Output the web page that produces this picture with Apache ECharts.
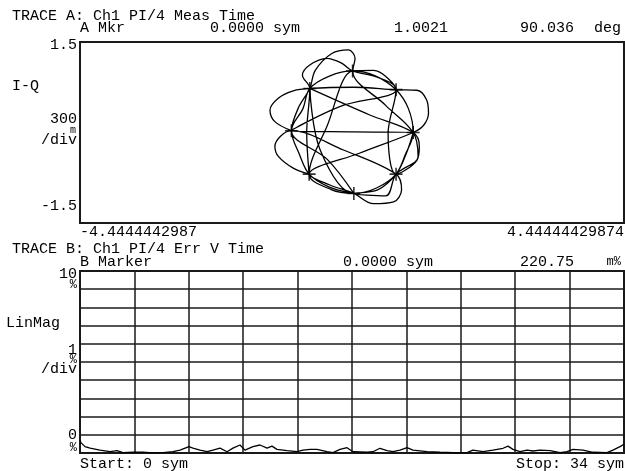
<!DOCTYPE html>
<html>
<head>
<meta charset="utf-8">
<script src="https://cdn.jsdelivr.net/npm/echarts@6/dist/echarts.min.js"></script>
<style>
html,body{margin:0;padding:0;background:#fff;}
#c{width:625px;height:471px;}
</style>
</head>
<body>
<div id="c"></div>
<script>
// ---- Trace A: I-Q trajectory (I, Q) ----
const iqTrajectory = [
  [-0.99, 0.03], [-1.26, 0.18], [-1.34, 0.37], [-1.20, 0.57], [-0.96, 0.69], [-0.69, 0.73],
  [0.02, 0.75], [0.72, 0.71], [1.06, 0.70], [1.22, 0.54], [1.25, 0.32], [1.17, 0.12], [1.00, 0.00],
  [0.13, -0.34], [-0.70, -0.69], [-0.36, -0.87], [0.03, -1.01], [0.35, -1.18], [0.68, -1.15],
  [0.81, -0.95], [0.72, -0.69], [-0.14, -0.29], [-0.99, 0.03], [-1.26, -0.23], [-1.20, -0.40],
  [-0.96, -0.59], [-0.70, -0.69], [-0.74, -0.01], [-0.69, 0.73], [-0.81, 0.95], [-0.69, 1.12],
  [-0.41, 1.23], [-0.17, 1.15], [0.01, 1.02], [0.40, 0.92], [0.72, 0.71], [0.59, -0.01],
  [0.72, -0.69], [1.06, -0.46], [1.10, -0.23], [1.00, 0.00], [0.29, 0.29], [-0.69, 0.73],
  [-0.52, -0.29], [0.03, -1.01], [0.40, -0.92], [0.72, -0.69], [0.89, -0.34], [1.00, 0.00],
  [0.02, 0.01], [-0.99, 0.03], [-0.20, 0.43], [0.72, 0.71], [0.35, 1.03], [0.01, 1.02],
  [-0.41, 0.10], [-0.70, -0.69], [-0.33, -0.95], [0.03, -1.01], [-0.40, -0.45], [-0.99, 0.03],
  [-0.88, 0.40], [-0.69, 0.73], [-0.60, 1.03], [-0.33, 1.31], [-0.06, 1.37], [0.05, 1.23],
  [0.01, 1.02], [0.55, 0.45], [1.00, 0.00], [1.08, -0.40], [0.72, -0.69], [0.55, -1.05], [0.03, -1.01],
  [0.42, -0.95], [0.72, -0.69], [0.87, -0.37], [1.00, 0.00], [0.92, 0.40], [0.72, 0.71],
  [0.38, 0.94], [0.01, 1.02], [-0.36, 0.94], [-0.69, 0.73], [-0.80, 0.40], [-0.99, 0.03],
  [-0.86, -0.36], [-0.70, -0.69], [-0.38, -0.90], [0.03, -1.01]
];
// symbol decision points
const iqSymbols = [
  [0.01, 1.02], [-0.69, 0.73], [0.72, 0.71], [-0.99, 0.03],
  [1.00, 0.00], [-0.70, -0.69], [0.72, -0.69], [0.03, -1.01]
];
const iqXMin = -4.4444442987, iqXMax = 4.44444429874;
const iqYMin = -1.5, iqYMax = 1.5;

// ---- Trace B: error vector magnitude vs symbol ----
const evmSym = [0, 0.06, 0.31, 0.63, 1.25, 1.88, 2.31, 2.69, 3.31, 3.94, 4.56, 5.19, 5.81, 6.25, 6.81, 7.06,
  7.5, 7.94, 8.31, 8.75, 9.19, 9.56, 10.0, 10.31, 10.81, 11.25, 11.69, 12.0, 12.31, 12.94, 13.56,
  13.94, 14.38, 14.81, 15.44, 15.81, 16.25, 16.69, 17.06, 17.94, 18.31, 18.75, 19.19, 19.56, 20.0,
  20.44, 20.81, 21.69, 22.5, 23.75, 24.19, 24.56, 25.19, 25.81, 26.44, 26.75, 27.06, 27.5, 27.94,
  28.31, 28.75, 29.38, 30.0, 30.44, 30.81, 31.44, 32.06, 32.94, 33.31, 33.75, 34.0];
const evmPct = [0.70, 0.57, 0.35, 0.27, 0.16, 0.07, 0.13, 0.02, 0.04, 0.04, 0.01, 0.02, 0.07, 0.16, 0.35, 0.27,
  0.16, 0.07, 0.16, 0.27, 0.07, 0.27, 0.44, 0.16, 0.35, 0.44, 0.27, 0.38, 0.20, 0.13, 0.07,
  0.16, 0.20, 0.20, 0.07, 0.02, 0.20, 0.29, 0.07, 0.04, 0.07, 0.26, 0.13, 0.07, 0.16,
  0.29, 0.16, 0.07, 0.04, 0.01, 0.02, 0.16, 0.07, 0.16, 0.26, 0.38, 0.20, 0.07, 0.16,
  0.11, 0.16, 0.13, 0.02, 0.07, 0.20, 0.16, 0.04, 0.02, 0.16, 0.35, 0.48];
const evmXMin = 0, evmXMax = 34, evmXInterval = 3.4;
const evmYMin = 0, evmYMax = 10, evmYInterval = 1;

const FONT = '"Liberation Mono", "DejaVu Sans Mono", monospace';
function txt(text, x, y, align, size) {
  return {
    type: 'text', silent: true,
    style: {
      text: text, x: x, y: y, fill: '#000',
      font: (size || 15) + 'px ' + FONT,
      align: align || 'left', verticalAlign: 'middle',
      textAlign: align || 'left', textVerticalAlign: 'middle'
    }
  };
}

const labels = [
  txt('TRACE A: Ch1 PI/4 Meas Time', 12, 16),
  txt('A Mkr', 80, 28),
  txt('0.0000 sym', 300, 28, 'right'),
  txt('1.0021', 448, 28, 'right'),
  txt('90.036', 574, 28, 'right'),
  txt('deg', 621, 28, 'right'),
  txt('1.5', 77, 45, 'right'),
  txt('I-Q', 12, 86),
  txt('300', 77, 119, 'right'),
  txt('m', 76, 130, 'right', 10),
  txt('/div', 77, 140, 'right'),
  txt('-1.5', 77, 206, 'right'),
  txt('-4.4444442987', 80, 232),
  txt('4.44444429874', 624, 232, 'right'),
  txt('TRACE B: Ch1 PI/4 Err V Time', 12, 249),
  txt('B Marker', 80, 262),
  txt('0.0000 sym', 433, 262, 'right'),
  txt('220.75', 574, 262, 'right'),
  txt('m%', 621, 262, 'right', 12),
  txt('10', 77, 274, 'right'),
  txt('%', 77, 285, 'right', 12),
  txt('LinMag', 6, 323),
  txt('1', 77, 350, 'right'),
  txt('%', 77, 360, 'right', 12),
  txt('/div', 77, 369, 'right'),
  txt('0', 77, 435, 'right'),
  txt('%', 77, 448, 'right', 12),
  txt('Start: 0 sym', 80, 464),
  txt('Stop: 34 sym', 624, 464, 'right')
];

const chart = echarts.init(document.getElementById('c'), null, { renderer: 'canvas' });
const lineColor = '#1a1a1a';
chart.setOption({
  animation: false,
  backgroundColor: '#fff',
  grid: [
    { left: 80, top: 42, width: 544, height: 181, show: true, borderColor: lineColor, borderWidth: 2, backgroundColor: 'transparent' },
    { left: 80, top: 271, width: 544, height: 182, show: true, borderColor: lineColor, borderWidth: 2, backgroundColor: 'transparent' }
  ],
  xAxis: [
    { gridIndex: 0, type: 'value', min: iqXMin, max: iqXMax, axisLine: { show: false }, axisTick: { show: false }, axisLabel: { show: false }, splitLine: { show: false } },
    { gridIndex: 1, type: 'value', min: evmXMin, max: evmXMax, interval: evmXInterval, axisLine: { show: false }, axisTick: { show: false }, axisLabel: { show: false },
      splitLine: { show: true, lineStyle: { color: lineColor, width: 1.5 } } }
  ],
  yAxis: [
    { gridIndex: 0, type: 'value', min: iqYMin, max: iqYMax, axisLine: { show: false }, axisTick: { show: false }, axisLabel: { show: false }, splitLine: { show: false } },
    { gridIndex: 1, type: 'value', min: evmYMin, max: evmYMax, interval: evmYInterval, axisLine: { show: false }, axisTick: { show: false }, axisLabel: { show: false },
      splitLine: { show: true, lineStyle: { color: lineColor, width: 1.5 } } }
  ],
  series: [
    {
      type: 'line', xAxisIndex: 0, yAxisIndex: 0, data: iqTrajectory, smooth: 0.35,
      showSymbol: false, symbol: 'none', lineStyle: { color: '#000', width: 1.3 }, silent: true
    },
    {
      type: 'scatter', xAxisIndex: 0, yAxisIndex: 0, data: iqSymbols,
      symbol: 'path://M0,6L12,6M6,0L6,12', symbolSize: 13,
      itemStyle: { color: 'transparent', borderColor: '#000', borderWidth: 1.6 }, silent: true
    },
    {
      type: 'line', xAxisIndex: 1, yAxisIndex: 1,
      data: evmSym.map((s, i) => [s, evmPct[i]]),
      showSymbol: false, symbol: 'none', lineStyle: { color: '#000', width: 1.3 }, silent: true
    }
  ],
  graphic: labels
});
</script>
</body>
</html>
